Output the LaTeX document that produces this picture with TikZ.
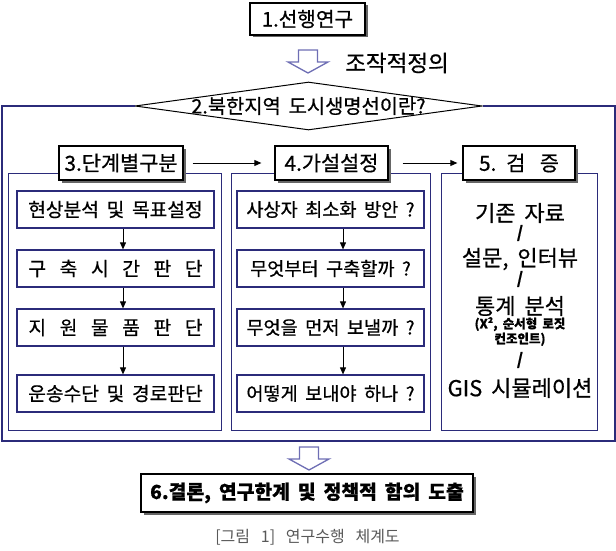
\documentclass[tikz,border=0pt]{standalone}
\usepackage{fontspec}
\setmainfont{Noto Sans CJK KR}[WordSpace=1.8, FakeBold=0.6]
\newfontfamily\captionfont{Noto Sans CJK KR}[WordSpace=3]
\usepackage{xcolor}
\usetikzlibrary{positioning, arrows.meta, shapes.geometric, shadows}
\definecolor{framenavy}{HTML}{2B2B7A}
\definecolor{hollowblue}{HTML}{6E6EB4}

\begin{document}
\begin{tikzpicture}[
    x=1pt, y=-1pt,
    titlebox/.style={
        rectangle,
        draw=black,
        line width=1.3pt,
        fill=white,
        drop shadow={shadow xshift=2.5pt, shadow yshift=-2.5pt, fill=black!60, opacity=1},
        inner sep=0pt,
        align=center
    },
    stepbox/.style={
        rectangle,
        draw=framenavy,
        line width=1.2pt,
        fill=white,
        minimum height=37pt,
        inner sep=0pt,
        align=center,
        font=\fontsize{19.2}{22}\selectfont
    },
    panel/.style={
        draw=framenavy,
        line width=1pt
    },
    arrow/.style={
        line width=0.9pt,
        -{Stealth[length=7pt, width=6pt, inset=0pt]}
    },
    hollow/.style={
        draw=hollowblue,
        line width=1.3pt,
        fill=white
    },
    verify/.style={
        font=\fontsize{22}{24}\selectfont
    },
    slash/.style={
        font=\bfseries\fontsize{16}{18}\selectfont
    },
    hollowarrow/.pic={
        \draw[hollow] (-9.5,0) -- (9.5,0) -- (9.5,12) -- (20,12) -- (0,23)
            -- (-20,12) -- (-9.5,12) -- cycle;
    }
]
\useasboundingbox (0,0) rectangle (616,551);

\node[titlebox, minimum width=115pt, minimum height=32pt,
    font=\fontsize{20.2}{22}\selectfont] (lead) at (307.5,19) {1.선행연구};

\pic at (308,50) {hollowarrow};
\node[font=\fontsize{22.5}{24}\selectfont] (operdef) at (397,63) {조작적정의};

\node[diamond, draw=black, line width=1pt, minimum width=347pt,
    minimum height=48pt, inner sep=0pt, font=\fontsize{19.8}{21}\selectfont]
    (question) at (308.5,106) {\makebox[0pt]{2.북한지역 도시생명선이란?}};

% outer frame, opened by the diamond
\draw[panel, line width=1.8pt] (question.west) -- (2,106) -- (2,441)
    -- (615,441) -- (615,106) -- (question.east);

% three panels
\draw[panel] (8,173) rectangle (221,430);
\draw[panel] (231,173) rectangle (430,430);
\draw[panel] (441,173) rectangle (597,430);

\node[titlebox, minimum width=124pt, minimum height=34pt,
    font=\fontsize{20.8}{23}\selectfont] (stage) at (121,163) {3.단계별구분};
\node[titlebox, minimum width=113pt, minimum height=34pt,
    font=\fontsize{20.8}{23}\selectfont] (hyp) at (331.5,163) {4.가설설정};
\node[titlebox, minimum width=112pt, minimum height=34pt,
    font=\fontsize{20.8}{23}\selectfont] (verifyhead) at (519,163) {5. 검\hspace{6pt} 증};

\draw[arrow] ([xshift=9pt]stage.east) -- ([xshift=-13pt]hyp.west);
\draw[arrow] ([xshift=14pt]hyp.east) -- ([xshift=-5pt]verifyhead.west);

% left column
\node[stepbox, minimum width=197pt] (current) at (115.5,209.5) {현상분석 및 목표설정};
\node[stepbox, minimum width=197pt] (buildtime) at (115.5,268.5) {\makebox[174pt][s]{구 축 시 간 판 단}};
\node[stepbox, minimum width=197pt] (supply) at (115.5,327.5) {\makebox[174pt][s]{지 원 물 품 판 단}};
\node[stepbox, minimum width=197pt] (transport) at (115.5,393.5) {운송수단 및 경로판단};

\draw[arrow] ([xshift=7.5pt]current.south) -- ([xshift=7.5pt]buildtime.north);
\draw[arrow] ([xshift=7.5pt]buildtime.south) -- ([xshift=7.5pt]supply.north);
\draw[arrow] ([xshift=7.5pt]supply.south) -- ([xshift=7.5pt]transport.north);

% middle column
\node[stepbox, minimum width=187pt, font=\fontsize{18.6}{22}\selectfont] (casualty) at (330.5,209.5) {사상자 최소화 방안 ?};
\node[stepbox, minimum width=187pt, font=\fontsize{18.6}{22}\selectfont] (buildfirst) at (330.5,268.5) {무엇부터 구축할까 ?};
\node[stepbox, minimum width=187pt, font=\fontsize{18.6}{22}\selectfont] (sendfirst) at (330.5,327.5) {무엇을 먼저 보낼까 ?};
\node[stepbox, minimum width=187pt, font=\fontsize{18.6}{22}\selectfont] (howsend) at (330.5,393.5) {어떻게 보내야 하나 ?};

\draw[arrow] ([xshift=12.5pt]casualty.south) -- ([xshift=12.5pt]buildfirst.north);
\draw[arrow] ([xshift=12.5pt]buildfirst.south) -- ([xshift=12.5pt]sendfirst.north);
\draw[arrow] ([xshift=12.5pt]sendfirst.south) -- ([xshift=12.5pt]howsend.north);

% right column
\node[verify] (existing) at (520,213) {기존 자료};
\node[slash] (slashA) at (520,233) {/};
\node[verify] (survey) at (520,259) {설문, 인터뷰};
\node[slash] (slashB) at (520,279) {/};
\node[verify] (stats) at (520,306) {통계 분석};
\node[font=\bfseries\fontsize{12.5}{15}\selectfont, align=center] (statsnote)
    at (520,331.5) {(X², 순서형 로짓\\컨조인트)};
\node[slash] (slashC) at (520,360) {/};
\node[verify] (gis) at (520,388) {GIS 시뮬레이션};

\pic at (309,447) {hollowarrow};

\node[titlebox, minimum width=332pt, minimum height=38pt,
    font=\bfseries\fontsize{19.3}{22}\selectfont] (conclusion) at (307,493)
    {6.결론, 연구한계 및 정책적 함의 도출};

\node[text=black!65, font=\captionfont\fontsize{16}{18}\selectfont] (caption) at (307.5,537)
    {[그림 1] 연구수행 체계도};

\end{tikzpicture}
\end{document}
